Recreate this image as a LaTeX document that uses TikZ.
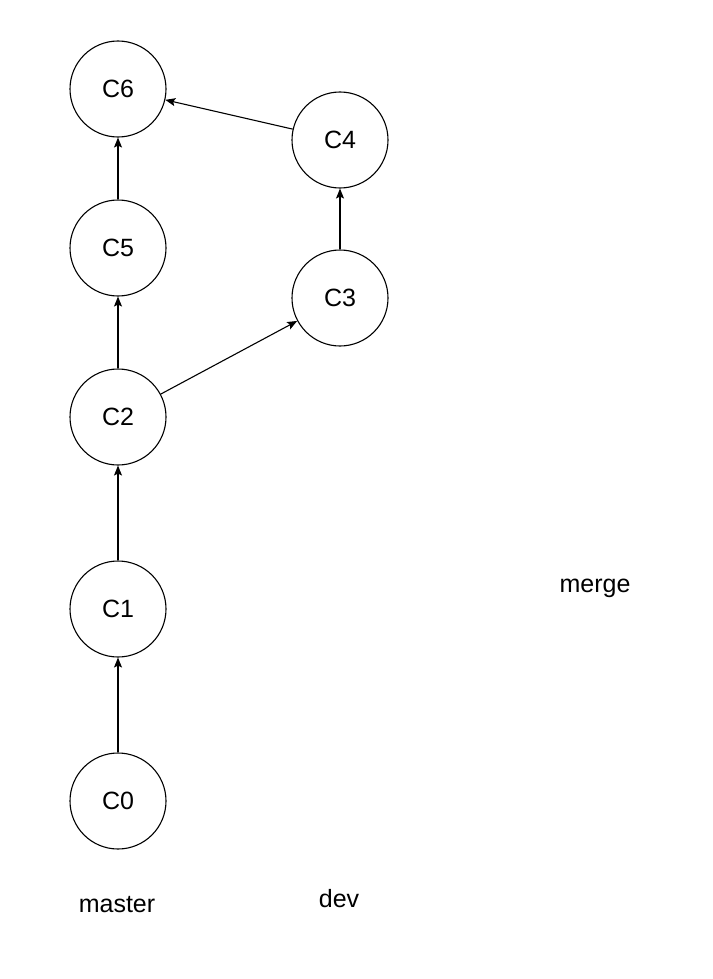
\documentclass[tikz,border=0pt]{standalone}
\usepackage{fontspec}
\setmainfont{Liberation Sans}
\usetikzlibrary{arrows.meta}
\tikzset{
  commit/.style={circle, draw=black, line width=1.1pt, fill=white, minimum size=96pt, inner sep=0pt,
                 font=\fontsize{25}{29}\selectfont},
  arr/.style={-{Stealth[length=10pt, width=8pt, inset=2pt]}, line width=1.1pt, black},
  lbl/.style={anchor=base, inner sep=0pt, font=\fontsize{25}{29}\selectfont},
}
\begin{document}
\begin{tikzpicture}[x=1pt, y=-1pt]
  \useasboundingbox (0,0) rectangle (712,979);
  % commits on master
  \node[commit] (c0) at (118,801) {C0};
  \node[commit] (c1) at (118,609) {C1};
  \node[commit] (c2) at (118,417) {C2};
  \node[commit] (c5) at (118,248) {C5};
  \node[commit] (c6) at (118,89)  {C6};
  % commits on dev
  \node[commit] (c3) at (340,298) {C3};
  \node[commit] (c4) at (340,140) {C4};
  \foreach \a/\b in {c0/c1,c1/c2,c2/c5,c5/c6,c2/c3,c3/c4,c4/c6} \draw[arr] (\a) -- (\b);
  % branch labels
  \node[lbl] (master) at (117,912) {master};
  \node[lbl] (dev)    at (339,907) {dev};
  \node[lbl] (merge)  at (595,592) {merge};
\end{tikzpicture}
\end{document}
